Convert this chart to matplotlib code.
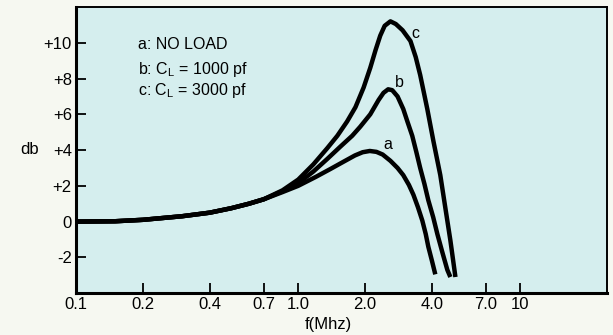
import matplotlib.pyplot as plt

plt.rcParams['font.family'] = ['Liberation Sans', 'DejaVu Sans']
plt.rcParams['mathtext.fontset'] = 'custom'
plt.rcParams['mathtext.rm'] = 'Liberation Sans'
plt.rcParams['mathtext.it'] = 'Liberation Sans'

# frequency response, dB vs f (MHz)
f_a = [0.1, 0.15, 0.2, 0.3, 0.4, 0.5, 0.6, 0.7, 0.85, 1.0, 1.2, 1.4, 1.6, 1.8,
       1.95, 2.1, 2.25, 2.4, 2.6, 2.8, 2.97, 3.15, 3.3, 3.46, 3.62, 3.75, 3.85,
       4.0, 4.14]
db_a = [0, 0.02, 0.1, 0.3, 0.5, 0.75, 1.0, 1.25, 1.65, 2.0, 2.5, 2.95, 3.35,
        3.7, 3.88, 3.95, 3.9, 3.75, 3.4, 3.0, 2.6, 2.05, 1.5, 0.8, 0.05, -0.7,
        -1.4, -2.2, -2.95]

f_b = [0.1, 0.15, 0.2, 0.3, 0.4, 0.5, 0.6, 0.7, 0.85, 1.0, 1.17, 1.35, 1.55,
       1.75, 1.9, 2.11, 2.3, 2.42, 2.54, 2.65, 2.8, 2.97, 3.1, 3.26, 3.4, 3.54,
       3.7, 3.85, 4.05, 4.23, 4.45, 4.69, 4.84]
db_b = [0, 0.02, 0.1, 0.3, 0.5, 0.75, 1.0, 1.25, 1.7, 2.15, 2.8, 3.5, 4.2,
        4.8, 5.3, 6.0, 6.8, 7.2, 7.4, 7.35, 7.0, 6.3, 5.6, 4.8, 3.9, 3.0,
        2.1, 1.2, 0.25, -0.7, -1.7, -2.7, -3.1]

f_c = [0.1, 0.15, 0.2, 0.3, 0.4, 0.5, 0.6, 0.7, 0.85, 1.0, 1.17, 1.35, 1.5,
       1.66, 1.81, 1.97, 2.11, 2.23, 2.34, 2.45, 2.6, 2.75, 2.95, 3.2, 3.38,
       3.54, 3.68, 3.81, 4.06, 4.36, 4.59, 4.84, 5.1]
db_c = [0, 0.02, 0.1, 0.3, 0.5, 0.75, 1.0, 1.25, 1.75, 2.35, 3.2, 4.1, 4.8,
        5.6, 6.4, 7.5, 8.6, 9.6, 10.4, 10.95, 11.2, 11.05, 10.7, 10.1, 9.2,
        8.2, 7.2, 6.3, 4.5, 2.6, 0.8, -1.05, -3.1]

x_ticks = [0.1, 0.2, 0.4, 0.7, 1.0, 2.0, 4.0, 7.0, 10]
x_labels = ['0.1', '0.2', '0.4', '0.7', '1.0', '2.0', '4.0', '7.0', '10']
y_ticks = [-2, 0, 2, 4, 6, 8, 10]
y_labels = ['-2', '0', '+2', '+4', '+6', '+8', '+10']

fig = plt.figure(figsize=(6.13, 3.35), dpi=100, facecolor='#f6f8f1')
ax = fig.add_axes([0.124, 0.125, 0.866, 0.854], facecolor='#d5eeee')

for f, db in [(f_a, db_a), (f_b, db_b), (f_c, db_c)]:
    ax.plot(f, db, color='black', lw=3.2, solid_capstyle='butt',
            solid_joinstyle='round')

ax.text(2.52, 4.3, 'a', fontsize=11.5, ha='center', va='center')
ax.text(2.85, 7.8, 'b', fontsize=11.5, ha='center', va='center')
ax.text(3.37, 10.5, 'c', fontsize=11.5, ha='center', va='center')

ax.text(0.19, 9.67, 'a: NO LOAD', fontsize=11.5, va='baseline')
ax.text(0.19, 8.25, r'b: C$_\mathrm{L}$ = 1000 pf', fontsize=11.5,
        va='baseline')
ax.text(0.19, 7.06, r'c: C$_\mathrm{L}$ = 3000 pf', fontsize=11.5,
        va='baseline')

ax.set_xscale('log')
ax.set_xlim(0.1, 24.5)
ax.set_ylim(-4, 12)
ax.set_xticks(x_ticks)
ax.set_xticklabels(x_labels)
ax.minorticks_off()
ax.set_yticks(y_ticks)
ax.set_yticklabels(y_labels)
ax.tick_params(direction='in', length=7, width=1.3, labelsize=12, pad=3)

for side in ['left', 'bottom']:
    ax.spines[side].set_linewidth(2.2)
for side in ['top', 'right']:
    ax.spines[side].set_linewidth(1.4)

fig.text(30 / 613, 1 - 150 / 335, 'db', fontsize=12, ha='center', va='center')
fig.text(328 / 613, 1 - 325 / 335, 'f(Mhz)', fontsize=12, ha='center',
         va='center')

fig.savefig('out.png', dpi=100, facecolor=fig.get_facecolor())
